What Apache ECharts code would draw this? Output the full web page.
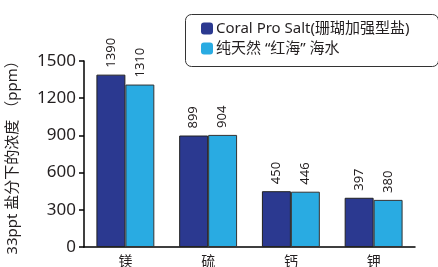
<!DOCTYPE html>
<html><head><meta charset="utf-8">
<script src="https://cdn.jsdelivr.net/npm/echarts@6/dist/echarts.min.js"></script>
<style>html,body{margin:0;padding:0;background:#fff}#c{width:438px;height:267px}</style>
</head><body><div id="c"></div>
<script>
const categories = ['镁', '硫', '钙', '钾'];
const coralPro = [1390, 899, 450, 397];
const redSea = [1310, 904, 446, 380];
const seriesNames = ['Coral Pro Salt(珊瑚加强型盐)', '纯天然 “红海” 海水'];
const yTicks = {min: 0, max: 1500, interval: 300};
const FONT = '"Noto Sans", "Noto Sans CJK SC", sans-serif';

const chart = echarts.init(document.getElementById('c'), null, {renderer: 'canvas'});
const label = {
  show: true, position: 'top', rotate: 90, align: 'left', verticalAlign: 'middle',
  distance: 7, fontSize: 13, color: '#231f20', fontFamily: FONT
};
chart.setOption({
  animation: false,
  grid: {left: 84, right: 23, top: 61, bottom: 20, outerBoundsMode: 'none', containLabel: false},
  graphic: [{
    type: 'rect', left: 183, top: 12, z: 0,
    shape: {width: 253, height: 52, r: 6},
    style: {fill: 'none', stroke: '#333', lineWidth: 1}
  }],
  legend: {
    orient: 'vertical', left: 183, top: 12,
    padding: [9, 18, 10, 18], itemGap: 5, itemWidth: 12, itemHeight: 12,
    textStyle: {fontSize: 15, color: '#231f20', fontFamily: FONT, padding: [0, 0, 0, -2]},
    itemStyle: {borderWidth: 0},
    data: seriesNames
  },
  xAxis: {
    type: 'category', data: categories,
    axisLine: {lineStyle: {color: '#000', width: 1.5}},
    axisTick: {inside: true, length: 6, lineStyle: {color: '#000', width: 1.5}},
    axisLabel: {fontSize: 14, color: '#231f20', fontFamily: FONT, margin: 8}
  },
  yAxis: {
    type: 'value', min: yTicks.min, max: yTicks.max, interval: yTicks.interval,
    name: '33ppt 盐分下的浓度 （ppm）', nameLocation: 'middle', nameGap: 64, nameRotate: 90,
    nameTextStyle: {fontSize: 15, color: '#231f20', fontFamily: FONT},
    axisLine: {show: true, lineStyle: {color: '#000', width: 1.5}},
    axisTick: {show: true, length: 5, lineStyle: {color: '#000', width: 1.5}},
    splitLine: {show: false},
    axisLabel: {fontSize: 17, color: '#231f20', fontFamily: FONT, margin: 8,
                formatter: v => String(v)}
  },
  series: [
    {name: seriesNames[0], type: 'bar', data: coralPro, barWidth: '35%', barGap: '0%',
     itemStyle: {color: '#2b3990', borderColor: '#222', borderWidth: 1}, label},
    {name: seriesNames[1], type: 'bar', data: redSea, barWidth: '35%',
     itemStyle: {color: '#29abe2', borderColor: '#333', borderWidth: 1}, label}
  ]
});
</script></body></html>
